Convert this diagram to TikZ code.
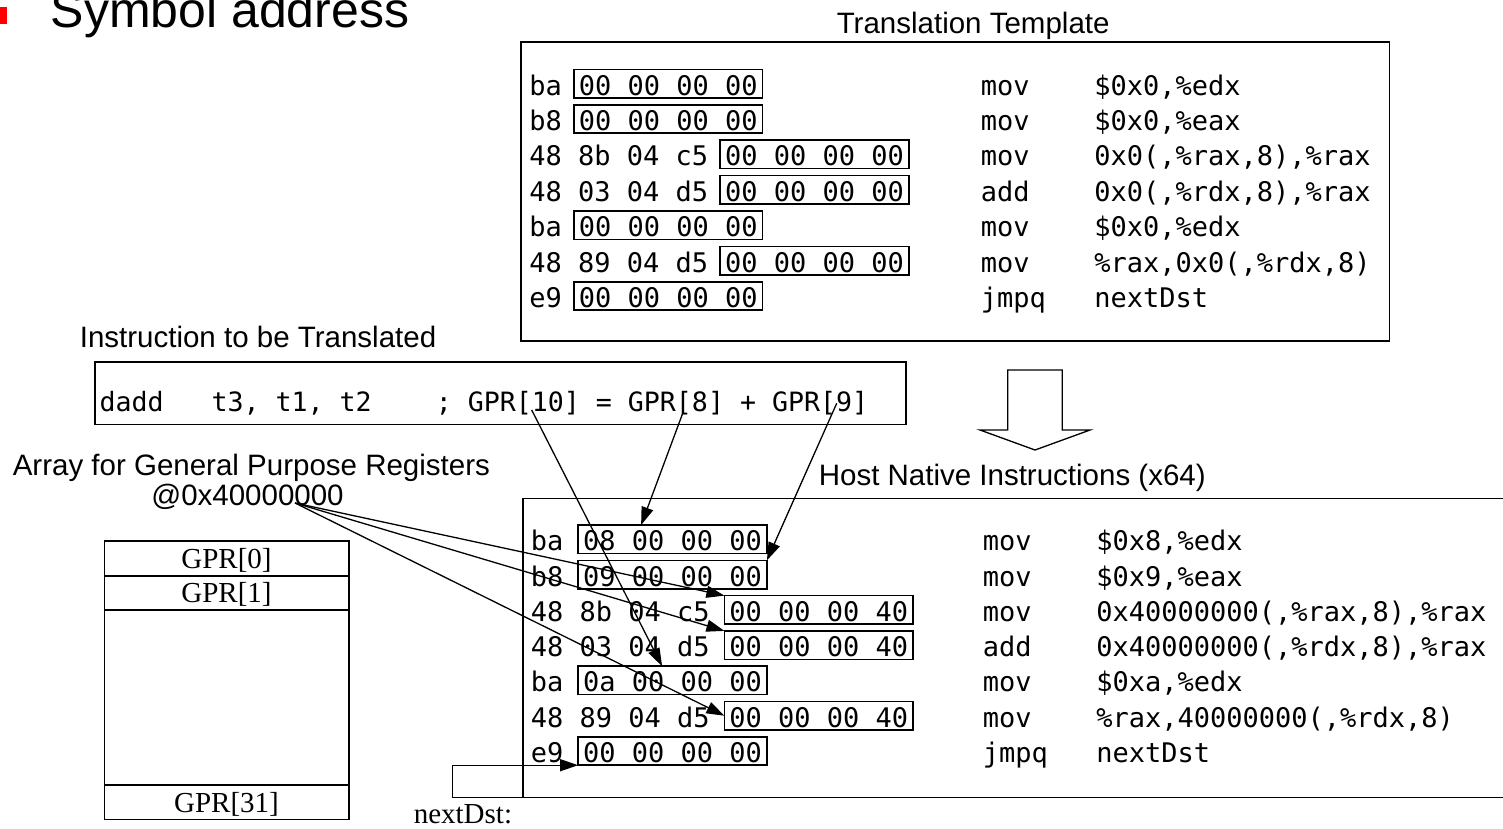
\documentclass[tikz,border=0pt]{standalone}
\usepackage{fontspec}
\setmainfont{Liberation Serif}
\setsansfont{Liberation Sans}
\setmonofont{DejaVu Sans Mono}
\usetikzlibrary{arrows.meta, positioning}
\frenchspacing

\newcommand{\lblfont}{\sffamily\fontsize{29.5}{35}\selectfont}
\newcommand{\codefont}{\ttfamily\fontsize{27}{32}\selectfont}
\newcommand{\insfont}{\ttfamily\fontsize{26.6}{32}\selectfont\spaceskip=0pt\xspaceskip=0pt}
\newcommand{\regfont}{\rmfamily\fontsize{29}{34}\selectfont}

\begin{document}
\begin{tikzpicture}[x=1pt, y=-1pt, line width=1.6pt,
    lbl/.style={font=\lblfont, anchor=base west, inner sep=0pt},
    code/.style={font=\codefont, anchor=base west, inner sep=0pt},
    imm/.style={code, draw, inner xsep=5pt, inner ysep=0pt, text height=25.7pt, text depth=2.7pt, outer sep=0pt},
    frame/.style={draw, anchor=north west, inner sep=0pt, outer sep=0pt},
    reg/.style={draw, font=\regfont, minimum width=244.4pt, inner sep=0pt, outer sep=0pt,
      text height=22pt, text depth=1.8pt},
    arr/.style={line width=1.3pt, -{Triangle[length=18pt, width=12pt]}}]
  \useasboundingbox (0,0) rectangle (1503,828);

  % heading
  \fill[red] (-10,6.7) rectangle (7.3,24);
  \node[font=\sffamily\fontsize{50}{60}\selectfont, anchor=base west, inner sep=0pt] (head) at (50,27) {Symbol address};

  % translation template
  \node[lbl] (ttl) at (836,33) {Translation Template};
  \node[frame, minimum width=868.6pt, minimum height=299pt] (tmpl) at (520.7,41.7) {};
  \foreach \i/\pre/\imm/\mn/\op in {
      1/ba/00 00 00 00/mov/{\$0x0,\%edx},
      2/b8/00 00 00 00/mov/{\$0x0,\%eax},
      3/48 8b 04 c5/00 00 00 00/mov/{0x0(,\%rax,8),\%rax},
      4/48 03 04 d5/00 00 00 00/add/{0x0(,\%rdx,8),\%rax},
      5/ba/00 00 00 00/mov/{\$0x0,\%edx},
      6/48 89 04 d5/00 00 00 00/mov/{\%rax,0x0(,\%rdx,8)},
      7/e9/00 00 00 00/jmpq/nextDst}{
    \node[code] (tp\i) at (528.5,{95+35.4*(\i-1)}) {\pre};
    \node[imm, base right=11.2pt of tp\i] (ti\i) {\imm};
    \node[code] (tm\i) at (980,{95+35.4*(\i-1)}) {\mn};
    \node[code] (to\i) at (1093.5,{95+35.4*(\i-1)}) {\op};
  }

  % guest instruction
  \node[lbl] (insl) at (79,347) {Instruction to be Translated};
  \node[draw, font=\insfont, anchor=north west, inner xsep=4.5pt, inner ysep=0pt, outer sep=0pt,
        text width=802pt, text height=49pt, text depth=13.5pt] (instr) at (95,362)
        {\spaceskip=0pt\xspaceskip=0pt dadd\ \ \ t3, t1, t2\ \ \ \ ; GPR[10] = GPR[8] + GPR[9]};
  \coordinate (s10) at (531.7,410);
  \coordinate (s8) at (683.3,411.7);
  \coordinate (s9) at (836.7,403.3);

  % translate
  \draw[line width=1.3pt] (1007.7,370) -- (1062.3,370) -- (1062.3,430) -- (1090,430)
    -- (1035,450) -- (980,430) -- (1007.7,430) -- cycle;

  % register array
  \node[lbl] (arrl) at (12,475) {Array for General Purpose Registers};
  \node[lbl, anchor=base] (addr) at (247.5,505) {@0x40000000};
  \coordinate (gbase) at (295,503);
  \node[reg, minimum height=35pt, anchor=north west] (g0) at (104.3,540.7) {GPR[0]};
  \node[reg, minimum height=34.3pt, below=0pt of g0] (g1) {GPR[1]};
  \node[reg, minimum height=175pt, below=0pt of g1] (gm) {};
  \node[reg, minimum height=34.3pt, below=0pt of gm] (g31) {GPR[31]};

  % host code
  \node[lbl] (hstl) at (818,485.7) {Host Native Instructions (x64)};
  \node[frame, minimum width=1010pt, minimum height=299pt] (host) at (522.7,498.3) {};
  \foreach \i/\pre/\imm/\mn/\op in {
      1/ba/08 00 00 00/mov/{\$0x8,\%edx},
      2/b8/09 00 00 00/mov/{\$0x9,\%eax},
      3/48 8b 04 c5/00 00 00 40/mov/{0x40000000(,\%rax,8),\%rax},
      4/48 03 04 d5/00 00 00 40/add/{0x40000000(,\%rdx,8),\%rax},
      5/ba/0a 00 00 00/mov/{\$0xa,\%edx},
      6/48 89 04 d5/00 00 00 40/mov/{\%rax,40000000(,\%rdx,8)},
      7/e9/00 00 00 00/jmpq/nextDst}{
    \node[code] (hp\i) at (530,{550.7+35.3*(\i-1)}) {\pre};
    \node[imm, base right=14pt of hp\i] (h\i) {\imm};
    \node[code] (hm\i) at (982,{550.7+35.3*(\i-1)}) {\mn};
    \node[code] (ho\i) at (1095.5,{550.7+35.3*(\i-1)}) {\op};
  }

  % patched operands
  \draw[arr] (s10) -- ([xshift=84pt]h5.north west);
  \draw[arr] (s8) -- ([xshift=63pt]h1.north west);
  \draw[arr] (s9) -- (h2.north east);
  \draw[arr] (gbase) -- (h3.north west);
  \draw[arr] (gbase) -- (h4.north west);
  \draw[arr] (gbase) -- (h6.west);

  % jump target
  \draw[arr] (host.south west) -- ++(-70,0) |- (h7.south west);
  \node[font=\regfont, anchor=base west, inner sep=0pt] (nxt) at (413,823) {nextDst:};
\end{tikzpicture}
\end{document}
